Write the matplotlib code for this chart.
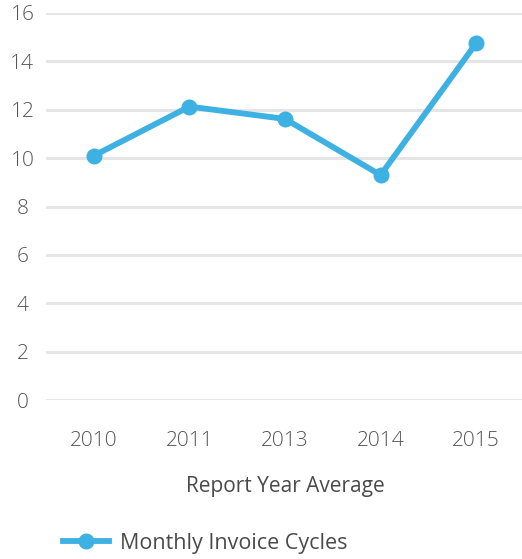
import numpy as np
import matplotlib.pyplot as plt

plt.rcParams['font.family'] = ['Open Sans', 'DejaVu Sans']
plt.rcParams['font.weight'] = 'light'

years = ['2010', '2011', '2013', '2014', '2015']
cycles = [10.1, 12.13, 11.62, 9.3, 14.75]
yticks = [0, 2, 4, 6, 8, 10, 12, 14, 16]

blue = '#3db1e1'
grey = '#555555'

W, H = 522, 559
fig = plt.figure(figsize=(W / 100, H / 100), dpi=100)
ax = fig.add_axes([46 / W, (H - 400) / H, 478 / W, 387 / H])

x = np.arange(len(years))
ax.plot(x, cycles, color=blue, linewidth=4.2, marker='o', markersize=10.5,
        label='Monthly Invoice Cycles', zorder=3)

ax.set_xlim(-0.5, len(years) - 0.5)
ax.set_ylim(0, 16)
ax.set_yticks(yticks)
ax.set_xticks(x)
ax.set_xticklabels(years)
ax.grid(axis='y', color='#e5e5e5', linewidth=2.2)
ax.set_axisbelow(True)
for s in ax.spines.values():
    s.set_visible(False)
ax.tick_params(length=0, labelsize=15, labelcolor=grey)
ax.tick_params(axis='x', pad=22)
for lbl in ax.get_yticklabels():
    lbl.set_horizontalalignment('center')
ax.tick_params(axis='y', pad=17)

ax.set_xlabel('Report Year Average', fontsize=15, color='#4a4a4a',
              fontweight='normal', labelpad=18)

fig.legend(loc='center left', bbox_to_anchor=(44 / W, 1 - 543 / H), frameon=False,
           prop={'size': 15.5, 'weight': 'normal'}, labelcolor='#4a4a4a',
           handlelength=2.1, handletextpad=0.55)

fig.savefig('out.png', dpi=100)
